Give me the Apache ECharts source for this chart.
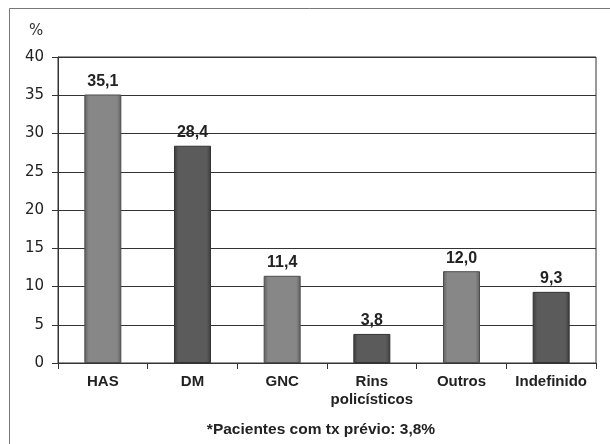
<!DOCTYPE html>
<html>
<head>
<meta charset="utf-8">
<script src="https://cdn.jsdelivr.net/npm/echarts@6/dist/echarts.min.js"></script>
<style>
  html, body { margin: 0; padding: 0; background: #fff; }
  #chart { width: 610px; height: 444px; }
</style>
</head>
<body>
<div id="chart"></div>
<script>
// Causas de doença renal (% dos pacientes)
var categories = ['HAS', 'DM', 'GNC', 'Rins\npolicísticos', 'Outros', 'Indefinido'];
var values = [35.1, 28.4, 11.4, 3.8, 12.0, 9.3];
var yTicks = [0, 5, 10, 15, 20, 25, 30, 35, 40];
var footnote = '*Pacientes com tx prévio: 3,8%';

var sans = '"Liberation Sans", Arial, sans-serif';
var wide = '"DejaVu Sans", sans-serif';

function barFill(base, edge) {
  return {
    type: 'linear', x: 0, y: 0, x2: 1, y2: 0,
    colorStops: [
      { offset: 0, color: edge },
      { offset: 0.12, color: base },
      { offset: 0.88, color: base },
      { offset: 1, color: edge }
    ]
  };
}
var lightFill = barFill('#878787', '#5e5e5e');
var darkFill = barFill('#5b5b5b', '#3c3c3c');

var chart = echarts.init(document.getElementById('chart'));
chart.setOption({
  animation: false,
  backgroundColor: '#fff',
  grid: {
    left: 58, right: 14, top: 57, bottom: 81,
    show: true, borderColor: '#333', borderWidth: 1
  },
  xAxis: {
    type: 'category',
    data: categories,
    axisLine: { lineStyle: { color: '#333', width: 1 } },
    axisTick: { show: true, length: 6, lineStyle: { color: '#333' } },
    axisLabel: {
      color: '#222', fontSize: 15, fontWeight: 'bold', fontFamily: sans,
      margin: 10, lineHeight: 18, interval: 0
    }
  },
  yAxis: {
    type: 'value',
    min: 0, max: 40, interval: 5,
    axisLine: { show: true, lineStyle: { color: '#333', width: 1 } },
    axisTick: { show: true, length: 6, lineStyle: { color: '#333' } },
    axisLabel: {
      color: '#222', fontSize: 15, fontFamily: wide,
      margin: 14,
      formatter: function (v) { return yTicks.indexOf(v) >= 0 ? String(v) : ''; }
    },
    splitLine: { show: true, lineStyle: { color: '#333', width: 1 } }
  },
  series: [{
    type: 'bar',
    barWidth: 37,
    data: values.map(function (v, i) {
      return {
        value: v,
        itemStyle: {
          color: i % 2 === 0 ? lightFill : darkFill,
          borderColor: i % 2 === 0 ? '#4e4e4e' : '#333',
          borderWidth: 1
        }
      };
    }),
    label: {
      show: true, position: 'top', distance: 5,
      color: '#222', fontSize: 16, fontWeight: 'bold', fontFamily: sans,
      formatter: function (p) { return p.value.toFixed(1).replace('.', ','); }
    }
  }],
  graphic: [
    { type: 'line', shape: { x1: 9.5, y1: 8.5, x2: 610, y2: 8.5 }, style: { stroke: '#777', lineWidth: 1 } },
    { type: 'line', shape: { x1: 9.5, y1: 8.5, x2: 9.5, y2: 444 }, style: { stroke: '#777', lineWidth: 1 } },
    { type: 'text', x: 29, y: 24, style: { text: '%', fontSize: 15, fill: '#333', fontFamily: wide } },
    { type: 'text', x: 321, y: 430, style: { text: footnote, fontSize: 15.5, fontWeight: 'bold', fill: '#222', fontFamily: sans, textAlign: 'center', textVerticalAlign: 'middle' } }
  ]
});
</script>
</body>
</html>
